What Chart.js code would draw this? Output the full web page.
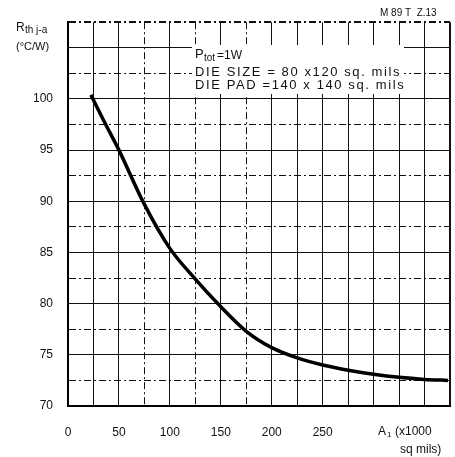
<!DOCTYPE html>
<html>
<head>
<meta charset="utf-8">
<script src="https://cdn.jsdelivr.net/npm/chart.js@4.4.1/dist/chart.umd.min.js"></script>
<style>
  html, body { margin: 0; padding: 0; background: #fff; }
  #wrap { width: 455px; height: 457px; }
</style>
</head>
<body>
<div id="wrap"><canvas id="rthChart" width="455" height="457"></canvas></div>
<script>
// datos (area en miles de sq mils vs Rth j-a en °C/W)
const areaX = [22.5, 35, 50, 75, 100, 125, 150, 175, 200, 225, 250, 275, 300, 325, 350, 373];
const rthY = [100.4, 97.9, 95.0, 89.7, 85.4, 82.4, 79.7, 77.3, 75.7, 74.7, 74.0, 73.5, 73.1, 72.8, 72.6, 72.5];
const xTickLabels = [0, 50, 100, 150, 200, 250];
const yTickLabels = [70, 75, 80, 85, 90, 95, 100];
const notas = ['DIE SIZE = 80 x120 sq. mils', 'DIE PAD =140 x 140 sq. mils'];

const fuente = '"Liberation Sans", Arial, sans-serif';

// textos sueltos del datasheet (titulos de ejes, codigo, caja de notas)
const textosPlugin = {
    id: 'textos',
    beforeDatasetsDraw(chart) {
        const ctx = chart.ctx;
        ctx.save();
        // caja blanca detras de las notas
        ctx.fillStyle = '#fff';
        ctx.fillRect(192, 45, 212, 49);
        ctx.fillStyle = '#111';
        ctx.textBaseline = 'middle';
        ctx.textAlign = 'left';
        ctx.font = '13px ' + fuente;
        ctx.fillText('P', 195, 54);
        ctx.font = '10px ' + fuente;
        ctx.fillText('tot', 204, 58);
        ctx.font = '12px ' + fuente;
        ctx.fillText('=1W', 217, 56);
        ctx.font = '13px ' + fuente;
        ctx.letterSpacing = '1.6px';
        ctx.fillText(notas[0], 195, 72);
        ctx.fillText(notas[1], 195, 85);
        ctx.restore();
    },
    afterDraw(chart) {
        const ctx = chart.ctx;
        ctx.save();
        ctx.fillStyle = '#111';
        ctx.textBaseline = 'middle';
        ctx.textAlign = 'left';
        ctx.font = '12px ' + fuente;
        ctx.fillText('R', 16, 28);
        ctx.font = '10px ' + fuente;
        ctx.fillText('th j-a', 25, 30);
        ctx.font = '11px ' + fuente;
        ctx.fillText('(°C/W)', 16, 47);
        ctx.font = '10px ' + fuente;
        ctx.fillText('M 89 T  Z.13', 380, 13);
        ctx.font = '12px ' + fuente;
        ctx.fillText('A', 378, 432);
        ctx.font = '8px ' + fuente;
        ctx.fillText('1', 387, 435);
        ctx.font = '12px ' + fuente;
        ctx.fillText('(x1000', 395, 432);
        ctx.fillText('sq mils)', 400, 450);
        ctx.restore();
    }
};

const ctxRth = document.getElementById('rthChart').getContext('2d');

new Chart(ctxRth, {
    type: 'line',
    data: {
        datasets: [{
            data: areaX.map((x, i) => ({ x: x, y: rthY[i] })),
            borderColor: '#000',
            borderWidth: 3.5,
            pointRadius: 0,
            fill: false,
            cubicInterpolationMode: 'monotone'
        }]
    },
    options: {
        responsive: false,
        animation: false,
        layout: { padding: { top: 19, right: 5, left: 0, bottom: 0 } },
        plugins: {
            legend: { display: false },
            tooltip: { enabled: false }
        },
        scales: {
            x: {
                type: 'linear',
                min: 0,
                max: 375,
                afterFit: function (scale) {
                    scale.height = 51;
                    scale.paddingLeft = 0;
                    scale.paddingRight = 0;
                },
                ticks: {
                    stepSize: 25,
                    autoSkip: false,
                    maxRotation: 0,
                    padding: 19,
                    color: '#111',
                    font: { family: fuente, size: 12 },
                    callback: function (value) {
                        return xTickLabels.includes(value) ? String(value) : '';
                    }
                },
                grid: {
                    drawTicks: false,
                    color: '#111',
                    lineWidth: function (c) {
                        return (c.tick && (c.tick.value === 0 || c.tick.value === 375)) ? 2 : 1;
                    }
                },
                border: {
                    display: true,
                    color: '#000',
                    width: 2,
                    dash: function (c) {
                        const v = c.tick ? c.tick.value : 0;
                        return (v >= 75 && v <= 175 && v % 50 !== 0) ? [7, 3, 2, 3] : [];
                    }
                }
            },
            y: {
                min: 70,
                max: 107.5,
                afterFit: function (scale) { scale.width = 68; },
                ticks: {
                    stepSize: 2.5,
                    autoSkip: false,
                    padding: 15,
                    color: '#111',
                    font: { family: fuente, size: 12 },
                    callback: function (value) {
                        return yTickLabels.includes(value) ? String(value) : '';
                    }
                },
                grid: {
                    drawTicks: false,
                    color: '#111',
                    lineWidth: function (c) {
                        return (c.tick && (c.tick.value === 70 || c.tick.value === 107.5)) ? 2 : 1;
                    }
                },
                border: {
                    display: true,
                    color: '#000',
                    width: 2,
                    dash: function (c) {
                        const v = c.tick ? c.tick.value : 70;
                        return (v % 5 !== 0) ? [7, 3, 2, 3] : [];
                    }
                }
            }
        }
    },
    plugins: [textosPlugin]
});
</script>
</body>
</html>
